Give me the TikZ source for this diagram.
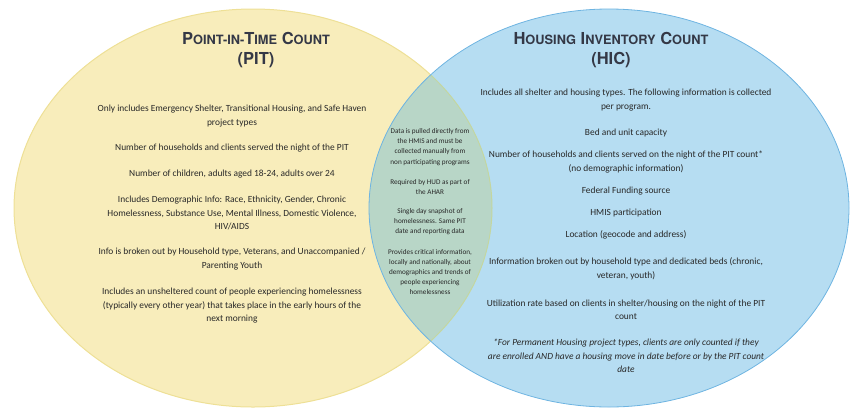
\documentclass[tikz,border=0pt]{standalone}
\usepackage{fontspec}
\setmainfont{Carlito}
\newfontfamily\titlefont{TeX Gyre Heros}
\definecolor{pitfill}{RGB}{248,237,187}
\definecolor{pitline}{RGB}{238,224,150}
\definecolor{hicfill}{RGB}{182,221,242}
\definecolor{hicline}{RGB}{110,180,225}
\definecolor{lensfill}{RGB}{184,214,199}
\definecolor{lensline}{RGB}{196,214,160}
\definecolor{titlecol}{RGB}{52,56,70}
\definecolor{bodycol}{RGB}{40,40,40}
\newcommand\capL[1]{{\fontsize{16.5}{16.5}\selectfont #1}}
\newcommand\capS[1]{{\fontsize{12.8}{12.8}\selectfont #1}}
\tikzset{
  titletext/.style={align=center, font=\titlefont\bfseries\fontsize{16.5}{20}\selectfont, text=titlecol, inner sep=0pt},
  bodytext/.style={align=center, font=\fontsize{9.4}{13.5}\selectfont, text=bodycol, inner sep=0pt},
  lenstext/.style={align=center, font=\fontsize{7.2}{10.1}\selectfont, text=bodycol, inner sep=0pt}
}
\begin{document}
\begin{tikzpicture}[x=1pt,y=-1pt]
\useasboundingbox (0,0) rectangle (851,413);
% circles
\fill[pitfill] (253,208) ellipse [x radius=239, y radius=199];
\fill[hicfill] (609,208) ellipse [x radius=240, y radius=199];
\begin{scope}
  \clip (253,208) ellipse [x radius=239, y radius=199];
  \fill[lensfill] (609,208) ellipse [x radius=240, y radius=199];
\end{scope}
\begin{scope}
  \clip (609,208) ellipse [x radius=240, y radius=199];
  \draw[lensline, line width=1pt] (253,208) ellipse [x radius=239, y radius=199];
\end{scope}
\begin{scope}
  \clip (0,0) rectangle (430,413);
  \draw[pitline, line width=1pt] (253,208) ellipse [x radius=239, y radius=199];
\end{scope}
\draw[hicline, line width=0.8pt] (609,208) ellipse [x radius=240, y radius=199];

% titles
\node[titletext] (pittitle) at (256,50) {\capL{P}\capS{OINT-IN-}\capL{T}\capS{IME} \capL{C}\capS{OUNT}\\(PIT)};
\node[titletext] (hictitle) at (611,50) {\capL{H}\capS{OUSING} \capL{I}\capS{NVENTORY} \capL{C}\capS{OUNT}\\(HIC)};

% left column
\node[bodytext] (p1) at (232,116) {Only includes Emergency Shelter, Transitional Housing, and Safe Haven\\project types};
\node[bodytext] (p2) at (232,148) {Number of households and clients served the night of the PIT};
\node[bodytext] (p3) at (232,174) {Number of children, adults aged 18-24, adults over 24};
\node[bodytext] (p4) at (232,213) {Includes Demographic Info: Race, Ethnicity, Gender, Chronic\\Homelessness, Substance Use, Mental Illness, Domestic Violence,\\HIV/AIDS};
\node[bodytext] (p5) at (232,259) {Info is broken out by Household type, Veterans, and Unaccompanied /\\Parenting Youth};
\node[bodytext] (p6) at (232,306) {Includes an unsheltered count of people experiencing homelessness\\(typically every other year) that takes place in the early hours of the\\next morning};

% lens
\node[lenstext] (l1) at (430,147) {Data is pulled directly from\\the HMIS and must be\\collected manually from\\non participating programs};
\node[lenstext] (l2) at (430,187) {Required by HUD as part of\\the AHAR};
\node[lenstext] (l3) at (430,222) {Single day snapshot of\\homelessness. Same PIT\\date and reporting data};
\node[lenstext] (l4) at (430,272) {Provides critical information,\\locally and nationally, about\\demographics and trends of\\people experiencing\\homelessness};

% right column
\node[bodytext] (r1) at (626,100) {Includes all shelter and housing types. The following information is collected\\per program.};
\node[bodytext] (r2) at (626,133) {Bed and unit capacity};
\node[bodytext] (r3) at (626,162) {Number of households and clients served on the night of the PIT count*\\(no demographic information)};
\node[bodytext] (r4) at (626,191) {Federal Funding source};
\node[bodytext] (r5) at (626,213) {HMIS participation};
\node[bodytext] (r6) at (626,235) {Location (geocode and address)};
\node[bodytext] (r7) at (626,269) {Information broken out by household type and dedicated beds (chronic,\\veteran, youth)};
\node[bodytext] (r8) at (626,310) {Utilization rate based on clients in shelter/housing on the night of the PIT\\count};
\node[bodytext, font=\itshape\fontsize{9.4}{13.5}\selectfont] (r9) at (626,356) {*For Permanent Housing project types, clients are only counted if they\\are enrolled AND have a housing move in date before or by the PIT count\\date};
\end{tikzpicture}
\end{document}
